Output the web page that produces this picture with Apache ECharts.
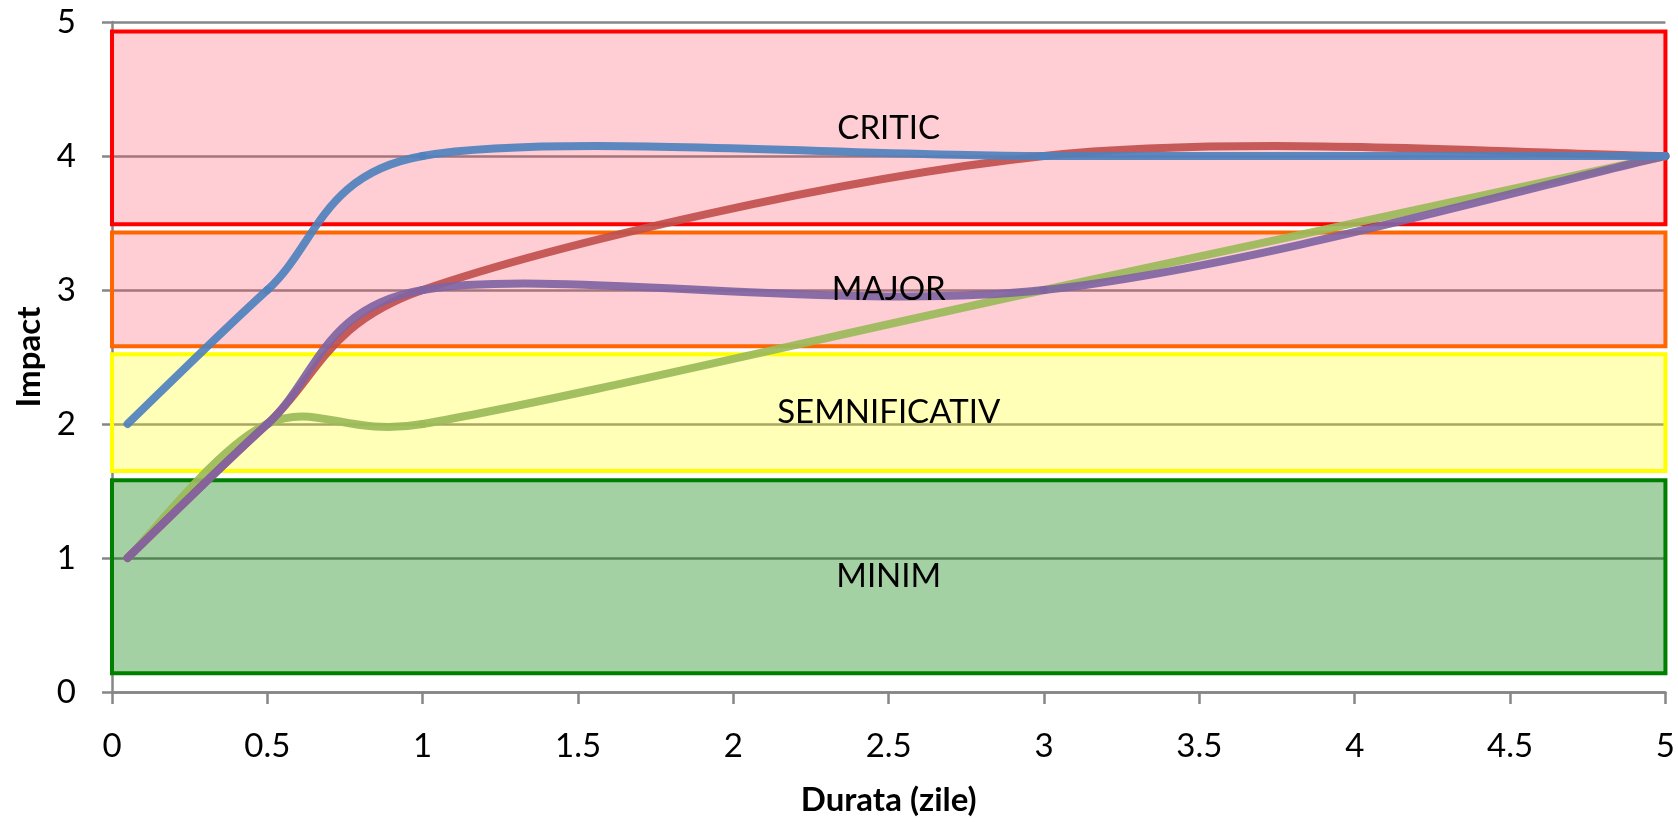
<!DOCTYPE html>
<html>
<head>
<meta charset="utf-8">
<script src="https://cdn.jsdelivr.net/npm/echarts@6/dist/echarts.min.js"></script>
<style>
  html, body { margin: 0; padding: 0; background: #fff; }
  #chart { width: 1678px; height: 822px; }
</style>
</head>
<body>
<div id="chart"></div>
<script>
// ---- data ----
const xPoints = [0.05, 0.5, 1, 3, 5];
const seriesGreen  = [1, 2, 2, 3, 4];
const seriesRed    = [1, 2, 3, 4, 4];
const seriesPurple = [1, 2, 3, 3, 4];
const seriesBlue   = [2, 3, 4, 4, 4];

const zoneNames = ['CRITIC', 'MAJOR', 'SEMNIFICATIV', 'MINIM'];
const zoneLow   = [3.49, 2.58, 1.65, 0.14];
const zoneHigh  = [4.93, 3.43, 2.52, 1.58];
const zoneXStart = 0;
const zoneXEnd = 5;

const xTicks = [0, 0.5, 1, 1.5, 2, 2.5, 3, 3.5, 4, 4.5, 5];
const yTicks = [0, 1, 2, 3, 4, 5];

// ---- styling ----
const FONT = 'Lato, "Open Sans", sans-serif';
const zoneBorder = ['#FF0000', '#FF6600', '#FFFF00', '#008000'];
const zoneFill = ['rgba(255,70,95,0.27)', 'rgba(255,70,95,0.27)', 'rgba(255,255,0,0.28)', 'rgba(0,128,0,0.36)'];

// Excel-like smoothed curve (Bezier through the data points, computed in pixel space via the axes)
function dist(a, b) { return Math.hypot(b[0] - a[0], b[1] - a[1]); }
function smoothRender(xs, ys, color) {
  return function (params, api) {
    if (params.dataIndex !== 0) return null;
    const P = xs.map((x, i) => api.coord([x, ys[i]]));
    const children = [];
    for (let i = 0; i < P.length - 1; i++) {
      const p0 = P[i - 1] || P[i], p1 = P[i], p2 = P[i + 1], p3 = P[i + 2] || P[i + 1];
      const d12 = dist(p1, p2);
      const d02 = dist(p0, p2), d13 = dist(p1, p3);
      let f1 = 1 / 6, f2 = 1 / 6;
      if (d02 > 0 && d02 / 6 > d12 / 2) f1 = d12 / (2 * d02);
      if (d13 > 0 && d13 / 6 > d12 / 2) f2 = d12 / (2 * d13);
      children.push({
        type: 'bezierCurve',
        shape: {
          x1: p1[0], y1: p1[1], x2: p2[0], y2: p2[1],
          cpx1: p1[0] + (p2[0] - p0[0]) * f1, cpy1: p1[1] + (p2[1] - p0[1]) * f1,
          cpx2: p2[0] - (p3[0] - p1[0]) * f2, cpy2: p2[1] - (p3[1] - p1[1]) * f2
        },
        style: { fill: null, stroke: color, lineWidth: 8, lineCap: 'round', lineJoin: 'round', opacity: 0.92 }
      });
    }
    return { type: 'group', children: children };
  };
}
function curveSeries(name, ys, color) {
  return {
    name: name,
    type: 'custom',
    data: xPoints.map((x, i) => [x, ys[i]]),
    encode: { x: 0, y: 1 },
    renderItem: smoothRender(xPoints, ys, color),
    clip: false,
    silent: true,
    z: 2
  };
}

function areaData(withStyle) {
  return zoneNames.map((n, i) => [
    {
      name: n,
      coord: [zoneXStart, zoneHigh[i]],
      itemStyle: withStyle
        ? { color: zoneFill[i], borderColor: zoneBorder[i], borderWidth: 4 }
        : { color: 'rgba(0,0,0,0)', borderWidth: 0 }
    },
    { coord: [zoneXEnd, zoneLow[i]] }
  ]);
}

const chart = echarts.init(document.getElementById('chart'));
chart.setOption({
  animation: false,
  backgroundColor: '#ffffff',
  grid: { left: 112, right: 10, top: 22, bottom: 130, containLabel: false },
  xAxis: {
    type: 'value',
    min: xTicks[0],
    max: xTicks[xTicks.length - 1],
    interval: 0.5,
    name: 'Durata (zile)',
    nameLocation: 'middle',
    nameGap: 92,
    nameTextStyle: { fontFamily: FONT, fontWeight: 'bold', fontSize: 33, color: '#000' },
    axisLine: { show: true, onZero: false, lineStyle: { color: '#868686', width: 2.5 } },
    axisTick: { show: true, inside: false, length: 12, lineStyle: { color: '#868686', width: 2.5 } },
    axisLabel: { fontFamily: FONT, fontSize: 33, color: '#000', margin: 38 },
    splitLine: { show: false }
  },
  yAxis: {
    type: 'value',
    min: yTicks[0],
    max: yTicks[yTicks.length - 1],
    interval: 1,
    name: 'Impact',
    nameLocation: 'middle',
    nameGap: 64,
    nameRotate: 90,
    nameTextStyle: { fontFamily: FONT, fontWeight: 'bold', fontSize: 33, color: '#000' },
    axisLine: { show: true, onZero: false, lineStyle: { color: '#868686', width: 2.5 } },
    axisTick: { show: true, inside: false, length: 10, lineStyle: { color: '#868686', width: 2.5 } },
    axisLabel: { fontFamily: FONT, fontSize: 33, color: '#000', margin: 36 },
    splitLine: { show: true, lineStyle: { color: '#868686', width: 2.5 } }
  },
  series: [
    {
      name: 'zone',
      type: 'line',
      data: [],
      silent: true,
      markArea: { silent: true, z: 1, label: { show: false }, data: areaData(true) }
    },
    curveSeries('Scenariu 4', seriesGreen, '#9BBB59'),
    curveSeries('Scenariu 2', seriesRed, '#C0504D'),
    curveSeries('Scenariu 3', seriesPurple, '#8064A2'),
    curveSeries('Scenariu 1', seriesBlue, '#4F81BD'),
    {
      name: 'zone labels',
      type: 'line',
      data: [],
      silent: true,
      markArea: {
        silent: true,
        z: 5,
        label: { show: true, position: 'inside', fontFamily: FONT, fontSize: 33, color: '#000' },
        data: areaData(false)
      }
    }
  ]
});
</script>
</body>
</html>
